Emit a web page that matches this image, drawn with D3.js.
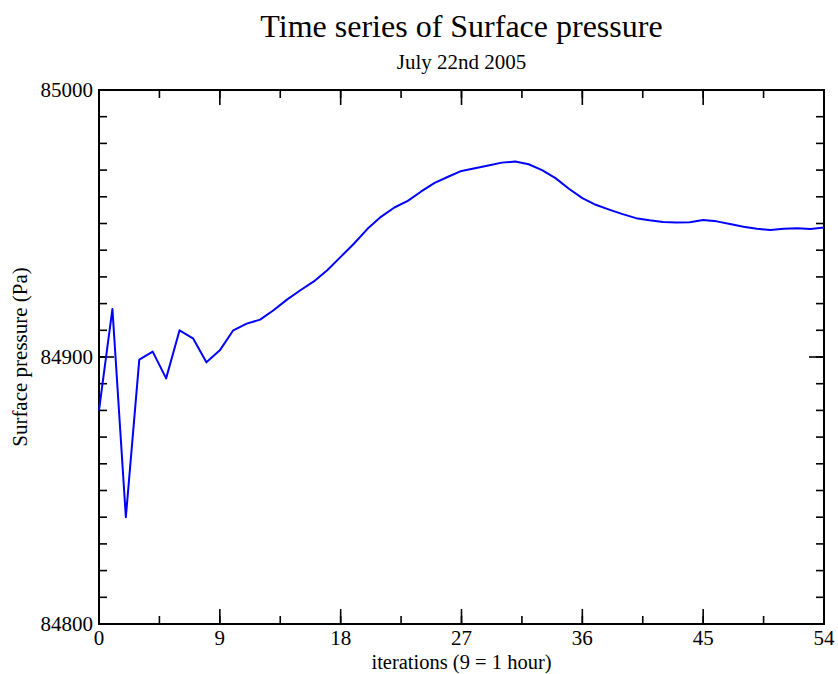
<!DOCTYPE html>
<html>
<head>
<meta charset="utf-8">
<script src="https://cdn.jsdelivr.net/npm/d3@7"></script>
<style>
  body { margin: 0; background: #fff; }
  text { font-family: "Liberation Serif", "DejaVu Serif", serif; fill: #000; }
</style>
</head>
<body>
<svg width="838" height="674"></svg>
<script>
// iterations 0..54 (9 iterations = 1 hour)
var iterations = d3.range(0, 55);
var pressure = [
  84880, 84918, 84840, 84899, 84902, 84892, 84910, 84907, 84898, 84902.5,
  84910, 84912.5, 84914, 84917.5, 84921.5, 84925, 84928.3, 84932.5, 84937.5, 84942.5,
  84948, 84952.5, 84956, 84958.5, 84962, 84965.2, 84967.5, 84969.7, 84970.7, 84971.7,
  84972.8, 84973.2, 84972.2, 84970, 84967, 84963, 84959.5, 84957, 84955.2, 84953.5,
  84952, 84951.2, 84950.6, 84950.4, 84950.5, 84951.3, 84950.8, 84949.8, 84948.8, 84948,
  84947.6, 84948, 84948.2, 84947.9, 84948.5
];
var xTicks = [0, 9, 18, 27, 36, 45, 54];
var yTicks = [84800, 84900, 85000];

var svg = d3.select("svg");
var pl = 99, pr = 824, pt = 90, pb = 624;

var x = d3.scaleLinear().domain([0, 54]).range([pl, pr]);
var y = d3.scaleLinear().domain([84800, 85000]).range([pb, pt]);

var xMinor = d3.range(0, 54.01, 4.5);
var yMinor = d3.range(84800, 85000.01, 10);

// minor + major ticks, drawn inward on all four sides
function ticks(g, vals, len, isX) {
  vals.forEach(function(v) {
    if (isX) {
      g.append("line").attr("x1", x(v)).attr("x2", x(v)).attr("y1", pb).attr("y2", pb - len);
      g.append("line").attr("x1", x(v)).attr("x2", x(v)).attr("y1", pt).attr("y2", pt + len);
    } else {
      g.append("line").attr("y1", y(v)).attr("y2", y(v)).attr("x1", pl).attr("x2", pl + len);
      g.append("line").attr("y1", y(v)).attr("y2", y(v)).attr("x1", pr).attr("x2", pr - len);
    }
  });
}

var tg = svg.append("g").attr("stroke", "#000").attr("stroke-width", 1.6);
ticks(tg, xMinor, 8, true);
ticks(tg, xTicks, 15, true);
ticks(tg, yMinor, 8, false);
ticks(tg, yTicks, 15, false);

svg.append("rect")
  .attr("x", pl).attr("y", pt)
  .attr("width", pr - pl).attr("height", pb - pt)
  .attr("fill", "none").attr("stroke", "#000").attr("stroke-width", 2);

// tick labels
svg.append("g").selectAll("text")
  .data(xTicks)
  .enter().append("text")
  .attr("x", function(d) { return x(d); })
  .attr("y", 645)
  .attr("text-anchor", "middle")
  .attr("font-size", 21)
  .text(function(d) { return d; });

svg.append("g").selectAll("text")
  .data(yTicks)
  .enter().append("text")
  .attr("x", 93)
  .attr("y", function(d) { return y(d) + 7; })
  .attr("text-anchor", "end")
  .attr("font-size", 21)
  .text(function(d) { return d; });

// the series
var line = d3.line()
  .x(function(d, i) { return x(iterations[i]); })
  .y(function(d) { return y(d); });

svg.append("path")
  .datum(pressure)
  .attr("d", line)
  .attr("fill", "none")
  .attr("stroke", "#0000ff")
  .attr("stroke-width", 2)
  .attr("stroke-linejoin", "round");

// titles
svg.append("text")
  .attr("x", (pl + pr) / 2).attr("y", 37)
  .attr("text-anchor", "middle")
  .attr("font-size", 32)
  .text("Time series of Surface pressure");

svg.append("text")
  .attr("x", (pl + pr) / 2).attr("y", 69)
  .attr("text-anchor", "middle")
  .attr("font-size", 21)
  .text("July 22nd 2005");

svg.append("text")
  .attr("x", (pl + pr) / 2).attr("y", 669)
  .attr("text-anchor", "middle")
  .attr("font-size", 20.5)
  .text("iterations (9 = 1 hour)");

svg.append("text")
  .attr("transform", "translate(27," + ((pt + pb) / 2) + ") rotate(-90)")
  .attr("text-anchor", "middle")
  .attr("font-size", 21)
  .text("Surface pressure (Pa)");
</script>
</body>
</html>
